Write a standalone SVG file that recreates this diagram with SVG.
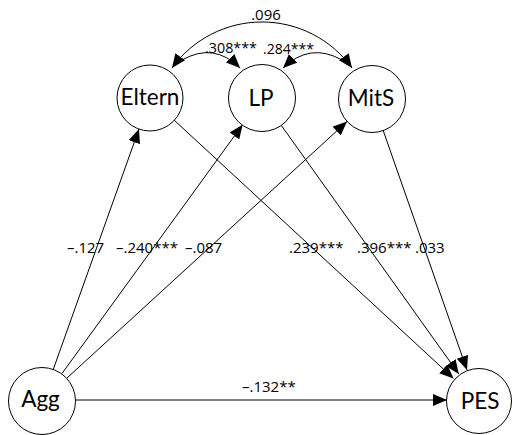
<svg xmlns="http://www.w3.org/2000/svg" width="512" height="435" viewBox="0 0 512 435">
<style>
.node{fill:#fff;stroke:#000;stroke-width:1}
.nt{font-family:Lato,"Open Sans",sans-serif;font-size:22.5px;text-anchor:middle;fill:#000}
.el{font-family:"Open Sans",Lato,sans-serif;font-size:15px;fill:#000}
.c{fill:none;stroke:#000;stroke-width:1}
</style>
<defs>
<marker id="ah" viewBox="0 0 14 12" refX="14" refY="6" markerWidth="14" markerHeight="12" markerUnits="userSpaceOnUse" orient="auto-start-reverse">
<path d="M0,0 L14,6 L0,12 Z" fill="#000"/>
</marker>
</defs>
<rect width="512" height="435" fill="#fff"/>
<g id="connectors">
<line class="c" x1="53.4" y1="369" x2="139" y2="129" marker-end="url(#ah)"/>
<line class="c" x1="62" y1="373.5" x2="242.6" y2="124.7" marker-end="url(#ah)"/>
<line class="c" x1="67" y1="378" x2="347" y2="121.6" marker-end="url(#ah)"/>
<line class="c" x1="174" y1="120" x2="453.5" y2="378.4" marker-end="url(#ah)"/>
<line class="c" x1="281" y1="125" x2="458.8" y2="374" marker-end="url(#ah)"/>
<line class="c" x1="383" y1="130" x2="467" y2="370" marker-end="url(#ah)"/>
<line class="c" x1="75" y1="400" x2="447" y2="400" marker-end="url(#ah)"/>
<path class="c" d="M172,68 A111,111 0 0 1 352,68" marker-start="url(#ah)" marker-end="url(#ah)"/>
<path class="c" d="M182,60 Q214,42 240,68" marker-end="url(#ah)"/>
<path class="c" d="M342,60 Q310,42 283,68" marker-end="url(#ah)"/>
</g>
<g id="labels">
<text class="el" x="266" y="20" text-anchor="middle">.096</text>
<text class="el" x="205" y="53" textLength="52" lengthAdjust="spacingAndGlyphs">.308***</text>
<text class="el" x="263" y="54" textLength="51" lengthAdjust="spacingAndGlyphs">.284***</text>
<text class="el" x="67" y="253">–.127</text>
<text class="el" x="116" y="253">–.240***</text>
<text class="el" x="185" y="253">–.087</text>
<text class="el" x="289" y="253">.239***</text>
<text class="el" x="357" y="253">.396***</text>
<text class="el" x="415" y="253">.033</text>
<text class="el" x="242" y="392">–.132**</text>
</g>
<g id="Eltern"><circle class="node" cx="150" cy="98" r="33"/><text class="nt" x="150" y="105">Eltern</text></g>
<g id="LP"><circle class="node" cx="262" cy="98" r="33.5"/><text class="nt" x="261" y="106">LP</text></g>
<g id="MitS"><circle class="node" cx="372" cy="99" r="33.5"/><text class="nt" x="371" y="106">MitS</text></g>
<g id="Agg"><circle class="node" cx="42" cy="401" r="33.5"/><text class="nt" x="40.5" y="407">Agg</text></g>
<g id="PES"><circle class="node" cx="479" cy="401" r="32.5"/><text class="nt" x="480" y="409">PES</text></g>
</svg>
